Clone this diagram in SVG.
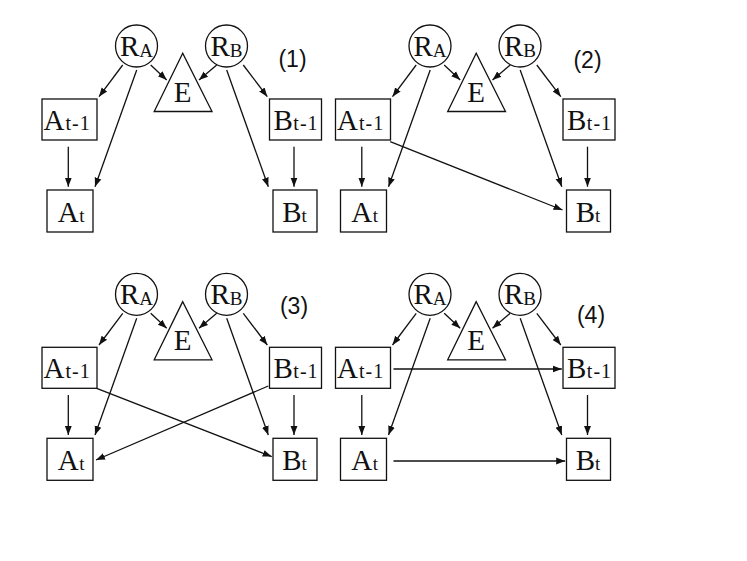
<svg xmlns="http://www.w3.org/2000/svg" width="747" height="561" viewBox="0 0 747 561">
<style>
.bg{fill:#fff}
.nd{fill:#fff;stroke:#111;stroke-width:1.3}
.tx{font-family:"Liberation Serif","Times New Roman",serif;font-size:29px;fill:#111}
.sb{font-size:19px}
.sb2{font-size:20px;letter-spacing:1px}
.lb{font-family:"Liberation Sans",Arial,sans-serif;font-size:23px;fill:#111;text-anchor:middle}
.cn line{stroke:#111;stroke-width:1.3;marker-end:url(#ah)}
</style>
<defs>
<marker id="ah" viewBox="0 0 10 10" refX="10" refY="5" markerWidth="9" markerHeight="9" markerUnits="userSpaceOnUse" orient="auto">
<path d="M0,1.2 L10,5 L0,8.8 z" fill="#111"/>
</marker>
</defs>
<rect class="bg" x="0" y="0" width="747" height="561"/>

<!-- Panel 1 -->
<g id="panel1">
<g id="p1-RA"><circle class="nd" cx="136.5" cy="46" r="21"/><text class="tx" x="120" y="55.5">R<tspan class="sb" dy="1.5">A</tspan></text></g>
<g id="p1-RB"><circle class="nd" cx="226.5" cy="46" r="21"/><text class="tx" x="210.5" y="55.5">R<tspan class="sb" dy="1.5">B</tspan></text></g>
<g id="p1-E"><polygon class="nd" points="182.7,53.3 154.2,111.5 212,111.5"/><text class="tx" x="182.7" y="101.5" text-anchor="middle">E</text></g>
<g id="p1-At1"><rect class="nd" x="42" y="99" width="55" height="41"/><text class="tx" x="43.5" y="129.5">A<tspan class="sb2" dx="1">t-1</tspan></text></g>
<g id="p1-At"><rect class="nd" x="47" y="190" width="46" height="42"/><text class="tx" x="57.8" y="221.7">A<tspan class="sb" dx="0.5">t</tspan></text></g>
<g id="p1-Bt1"><rect class="nd" x="269.5" y="99" width="52" height="41"/><text class="tx" x="273.5" y="129.5">B<tspan class="sb2" dx="0.5">t-1</tspan></text></g>
<g id="p1-Bt"><rect class="nd" x="273" y="190" width="44" height="42"/><text class="tx" x="282.2" y="221.7">B<tspan class="sb" dx="0">t</tspan></text></g>
<text id="p1-label" class="lb" x="292.5" y="67">(1)</text>
<g id="p1-connectors" class="cn">
<line x1="122.7" y1="65" x2="99" y2="96.7"/>
<line x1="136.7" y1="70" x2="95" y2="186.7"/>
<line x1="150.7" y1="65" x2="166.7" y2="80"/>
<line x1="216.7" y1="65" x2="199" y2="80"/>
<line x1="243.3" y1="65" x2="267.3" y2="96.7"/>
<line x1="226.7" y1="70" x2="268.3" y2="186.7"/>
<line x1="68.3" y1="146.7" x2="68.3" y2="186.7"/>
<line x1="294" y1="146.7" x2="294" y2="186.7"/>
</g>
</g>

<!-- Panel 2 -->
<g id="panel2" transform="translate(293.5,0)">
<g id="p2-RA"><circle class="nd" cx="136.5" cy="46" r="21"/><text class="tx" x="120" y="55.5">R<tspan class="sb" dy="1.5">A</tspan></text></g>
<g id="p2-RB"><circle class="nd" cx="226.5" cy="46" r="21"/><text class="tx" x="210.5" y="55.5">R<tspan class="sb" dy="1.5">B</tspan></text></g>
<g id="p2-E"><polygon class="nd" points="182.7,53.3 154.2,111.5 212,111.5"/><text class="tx" x="182.7" y="101.5" text-anchor="middle">E</text></g>
<g id="p2-At1"><rect class="nd" x="42" y="99" width="55" height="41"/><text class="tx" x="43.5" y="129.5">A<tspan class="sb2" dx="1">t-1</tspan></text></g>
<g id="p2-At"><rect class="nd" x="47" y="190" width="46" height="42"/><text class="tx" x="57.8" y="221.7">A<tspan class="sb" dx="0.5">t</tspan></text></g>
<g id="p2-Bt1"><rect class="nd" x="269.5" y="99" width="52" height="41"/><text class="tx" x="273.5" y="129.5">B<tspan class="sb2" dx="0.5">t-1</tspan></text></g>
<g id="p2-Bt"><rect class="nd" x="273" y="190" width="44" height="42"/><text class="tx" x="282.2" y="221.7">B<tspan class="sb" dx="0">t</tspan></text></g>
<text id="p2-label" class="lb" x="294" y="68">(2)</text>
<g id="p2-connectors" class="cn">
<line x1="122.7" y1="65" x2="99" y2="96.7"/>
<line x1="136.7" y1="70" x2="95" y2="186.7"/>
<line x1="150.7" y1="65" x2="166.7" y2="80"/>
<line x1="216.7" y1="65" x2="199" y2="80"/>
<line x1="243.3" y1="65" x2="267.3" y2="96.7"/>
<line x1="226.7" y1="70" x2="268.3" y2="186.7"/>
<line x1="68.3" y1="146.7" x2="68.3" y2="186.7"/>
<line x1="294" y1="146.7" x2="294" y2="186.7"/>
<line x1="96.7" y1="141.7" x2="269" y2="210"/>
</g>
</g>

<!-- Panel 3 -->
<g id="panel3" transform="translate(0,248.3)">
<g id="p3-RA"><circle class="nd" cx="136.5" cy="46" r="21"/><text class="tx" x="120" y="55.5">R<tspan class="sb" dy="1.5">A</tspan></text></g>
<g id="p3-RB"><circle class="nd" cx="226.5" cy="46" r="21"/><text class="tx" x="210.5" y="55.5">R<tspan class="sb" dy="1.5">B</tspan></text></g>
<g id="p3-E"><polygon class="nd" points="182.7,53.3 154.2,111.5 212,111.5"/><text class="tx" x="182.7" y="101.5" text-anchor="middle">E</text></g>
<g id="p3-At1"><rect class="nd" x="42" y="99" width="55" height="41"/><text class="tx" x="43.5" y="129.5">A<tspan class="sb2" dx="1">t-1</tspan></text></g>
<g id="p3-At"><rect class="nd" x="47" y="190" width="46" height="42"/><text class="tx" x="57.8" y="221.7">A<tspan class="sb" dx="0.5">t</tspan></text></g>
<g id="p3-Bt1"><rect class="nd" x="269.5" y="99" width="52" height="41"/><text class="tx" x="273.5" y="129.5">B<tspan class="sb2" dx="0.5">t-1</tspan></text></g>
<g id="p3-Bt"><rect class="nd" x="273" y="190" width="44" height="42"/><text class="tx" x="282.2" y="221.7">B<tspan class="sb" dx="0">t</tspan></text></g>
<text id="p3-label" class="lb" x="294" y="66">(3)</text>
<g id="p3-connectors" class="cn">
<line x1="122.7" y1="65" x2="99" y2="96.7"/>
<line x1="136.7" y1="70" x2="95" y2="186.7"/>
<line x1="150.7" y1="65" x2="166.7" y2="80"/>
<line x1="216.7" y1="65" x2="199" y2="80"/>
<line x1="243.3" y1="65" x2="267.3" y2="96.7"/>
<line x1="226.7" y1="70" x2="268.3" y2="186.7"/>
<line x1="68.3" y1="146.7" x2="68.3" y2="186.7"/>
<line x1="294" y1="146.7" x2="294" y2="186.7"/>
<line x1="96.7" y1="140" x2="271.7" y2="208.3"/>
<line x1="268.3" y1="137.7" x2="96" y2="211.7"/>
</g>
</g>

<!-- Panel 4 -->
<g id="panel4" transform="translate(293.5,248.3)">
<g id="p4-RA"><circle class="nd" cx="136.5" cy="46" r="21"/><text class="tx" x="120" y="55.5">R<tspan class="sb" dy="1.5">A</tspan></text></g>
<g id="p4-RB"><circle class="nd" cx="226.5" cy="46" r="21"/><text class="tx" x="210.5" y="55.5">R<tspan class="sb" dy="1.5">B</tspan></text></g>
<g id="p4-E"><polygon class="nd" points="182.7,53.3 154.2,111.5 212,111.5"/><text class="tx" x="182.7" y="101.5" text-anchor="middle">E</text></g>
<g id="p4-At1"><rect class="nd" x="42" y="99" width="55" height="41"/><text class="tx" x="43.5" y="129.5">A<tspan class="sb2" dx="1">t-1</tspan></text></g>
<g id="p4-At"><rect class="nd" x="47" y="190" width="46" height="42"/><text class="tx" x="57.8" y="221.7">A<tspan class="sb" dx="0.5">t</tspan></text></g>
<g id="p4-Bt1"><rect class="nd" x="269.5" y="99" width="52" height="41"/><text class="tx" x="273.5" y="129.5">B<tspan class="sb2" dx="0.5">t-1</tspan></text></g>
<g id="p4-Bt"><rect class="nd" x="273" y="190" width="44" height="42"/><text class="tx" x="282.2" y="221.7">B<tspan class="sb" dx="0">t</tspan></text></g>
<text id="p4-label" class="lb" x="297.5" y="74.5">(4)</text>
<g id="p4-connectors" class="cn">
<line x1="122.7" y1="65" x2="99" y2="96.7"/>
<line x1="136.7" y1="70" x2="95" y2="186.7"/>
<line x1="150.7" y1="65" x2="166.7" y2="80"/>
<line x1="216.7" y1="65" x2="199" y2="80"/>
<line x1="243.3" y1="65" x2="267.3" y2="96.7"/>
<line x1="226.7" y1="70" x2="268.3" y2="186.7"/>
<line x1="68.3" y1="146.7" x2="68.3" y2="186.7"/>
<line x1="294" y1="146.7" x2="294" y2="186.7"/>
<line x1="100" y1="120.7" x2="268.3" y2="120.7"/>
<line x1="100" y1="212.7" x2="271.7" y2="212.7"/>
</g>
</g>
</svg>
